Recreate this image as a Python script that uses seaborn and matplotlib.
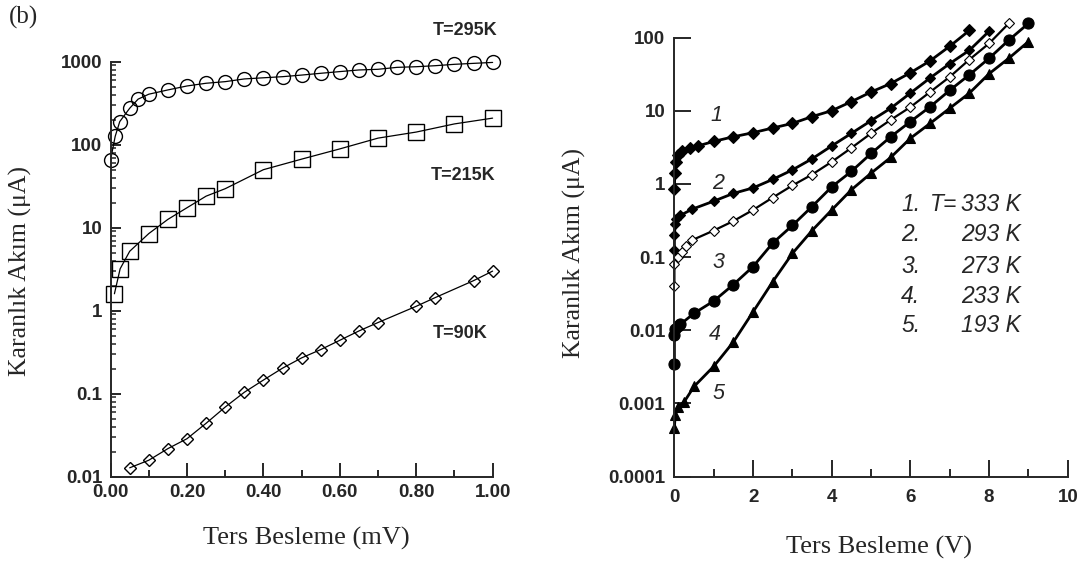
import matplotlib
matplotlib.use("Agg")
import matplotlib.pyplot as plt
import seaborn as sns
from matplotlib.ticker import FixedLocator, LogLocator, NullFormatter, NullLocator

sns.set_style("ticks")
plt.rcParams["font.family"] = ["Liberation Sans", "DejaVu Sans"]

# ---------------- Left panel data (Ters Besleme in mV, current in uA) ----------------
v_295 = [0.0, 0.012, 0.024, 0.05, 0.072, 0.10, 0.15, 0.20, 0.25, 0.30, 0.35, 0.40,
         0.45, 0.50, 0.55, 0.60, 0.65, 0.70, 0.75, 0.80, 0.85, 0.90, 0.95, 1.00]
i_295 = [66, 126, 190, 275, 354, 406, 457, 510, 550, 575, 620, 640,
         660, 690, 725, 760, 795, 810, 855, 870, 895, 930, 955, 980]

v_215 = [0.01, 0.025, 0.05, 0.10, 0.15, 0.20, 0.25, 0.30, 0.40, 0.50, 0.60, 0.70, 0.80, 0.90, 1.00]
i_215 = [1.6, 3.2, 5.2, 8.5, 12.6, 17.4, 24, 29.5, 50, 67, 89, 120, 142, 178, 209]

v_90 = [0.05, 0.10, 0.15, 0.20, 0.25, 0.30, 0.35, 0.40, 0.45, 0.50, 0.55, 0.60,
        0.65, 0.70, 0.80, 0.85, 0.95, 1.00]
i_90 = [0.0128, 0.0158, 0.0218, 0.0287, 0.044, 0.069, 0.104, 0.146, 0.203, 0.27, 0.34, 0.44,
        0.57, 0.72, 1.13, 1.44, 2.3, 3.0]

left_labels = ["T=295K", "T=215K", "T=90K"]
left_xticks = [0.0, 0.2, 0.4, 0.6, 0.8, 1.0]
left_xtick_labels = ["0.00", "0.20", "0.40", "0.60", "0.80", "1.00"]
left_yticks = [0.01, 0.1, 1, 10, 100, 1000]
left_ytick_labels = ["0.01", "0.1", "1", "10", "100", "1000"]

# ---------------- Right panel data (Ters Besleme in V, current in uA) ----------------
v_1 = [0.0, 0.01, 0.03, 0.1, 0.2, 0.4, 0.6, 1.0, 1.5, 2.0, 2.5, 3.0, 3.5, 4.0, 4.5,
       5.0, 5.5, 6.0, 6.5, 7.0, 7.5]
i_1 = [0.85, 1.4, 2.0, 2.5, 2.8, 3.1, 3.3, 3.8, 4.4, 5.0, 5.8, 6.7, 8.3, 10.0, 13.3,
       18, 23.5, 33, 48, 76, 125]

v_2 = [0.0, 0.0, 0.02, 0.05, 0.15, 0.45, 1.0, 1.5, 2.0, 2.5, 3.0, 3.5, 4.0, 4.5, 5.0,
       5.5, 6.0, 6.5, 7.0, 7.5, 8.0]
i_2 = [0.125, 0.2, 0.28, 0.33, 0.37, 0.45, 0.58, 0.74, 0.88, 1.15, 1.55, 2.2, 3.3, 4.9, 7.3,
       10.8, 17.4, 28, 44, 67, 122]

v_3 = [0.0, 0.0, 0.1, 0.2, 0.3, 0.45, 1.0, 1.5, 2.0, 2.5, 3.0, 3.5, 4.0, 4.5, 5.0,
       5.5, 6.0, 6.5, 7.0, 7.5, 8.0, 8.5]
i_3 = [0.04, 0.08, 0.1, 0.117, 0.14, 0.17, 0.23, 0.31, 0.44, 0.65, 0.95, 1.34, 2.0, 3.1, 4.9,
       7.5, 11.2, 18, 29, 50, 83, 156]

v_4 = [0.0, 0.0, 0.02, 0.1, 0.15, 0.5, 1.0, 1.5, 2.0, 2.5, 3.0, 3.5, 4.0, 4.5, 5.0,
       5.5, 6.0, 6.5, 7.0, 7.5, 8.0, 8.5, 9.0]
i_4 = [0.0035, 0.0085, 0.0105, 0.0115, 0.012, 0.017, 0.025, 0.042, 0.074, 0.155, 0.27, 0.49,
       0.91, 1.48, 2.6, 4.4, 7.1, 11.3, 19, 31, 52, 92, 156]

v_5 = [0.0, 0.02, 0.1, 0.25, 0.5, 1.0, 1.5, 2.0, 2.5, 3.0, 3.5, 4.0, 4.5, 5.0, 5.5,
       6.0, 6.5, 7.0, 7.5, 8.0, 8.5, 9.0]
i_5 = [0.00046, 0.0007, 0.0009, 0.00105, 0.0017, 0.0032, 0.0069, 0.0178, 0.046, 0.112, 0.23,
       0.44, 0.83, 1.4, 2.3, 4.2, 6.7, 10.8, 17.4, 32, 52, 88]

curve_numbers = ["1", "2", "3", "4", "5"]
legend_index = ["1.", "2.", "3.", "4.", "5."]
legend_temps = ["333 K", "293 K", "273 K", "233 K", "193 K"]
right_xticks = [0, 2, 4, 6, 8, 10]
right_yticks = [1e-4, 1e-3, 1e-2, 1e-1, 1, 10, 100]
right_ytick_labels = ["0.0001", "0.001", "0.01", "0.1", "1", "10", "100"]

W, H = 1092, 566
fig = plt.figure(figsize=(W / 100, H / 100), dpi=100)
fig.patch.set_facecolor("white")

ax1 = fig.add_axes([110.6 / W, 1 - 476.7 / H, 382 / W, 415 / H])
ax2 = fig.add_axes([674.4 / W, 1 - 476.5 / H, 393.4 / W, 439 / H])

tick_font = dict(family="Liberation Sans", weight="bold", size=13.5)
serif = "Liberation Serif"

# ---------------- Left panel ----------------
left_style = dict(color="black", linewidth=0.9, markerfacecolor="none",
                  markeredgecolor="black", markeredgewidth=1.0,
                  estimator=None, sort=False, clip_on=False)
sns.lineplot(x=v_295, y=i_295, ax=ax1, marker="o", markersize=10, **left_style)
sns.lineplot(x=v_215, y=i_215, ax=ax1, marker="s", markersize=12, **left_style)
sns.lineplot(x=v_90, y=i_90, ax=ax1, marker="D", markersize=6.5, **left_style)

ax1.set_yscale("log")
ax1.set_xlim(0, 1.0)
ax1.set_ylim(0.01, 1000)
ax1.xaxis.set_major_locator(FixedLocator(left_xticks))
ax1.set_xticklabels(left_xtick_labels)
ax1.xaxis.set_minor_locator(FixedLocator([0.1, 0.3, 0.5, 0.7, 0.9]))
ax1.yaxis.set_major_locator(FixedLocator(left_yticks))
ax1.set_yticklabels(left_ytick_labels)
ax1.yaxis.set_minor_locator(LogLocator(base=10, subs=range(2, 10)))
ax1.yaxis.set_minor_formatter(NullFormatter())
ax1.tick_params(axis="x", which="major", direction="in", length=10, width=1.4, pad=5)
ax1.tick_params(axis="x", which="minor", direction="in", length=5, width=1.4)
ax1.tick_params(axis="y", which="major", direction="in", length=7.5, width=1.4, pad=6)
ax1.tick_params(axis="y", which="minor", direction="in", length=3.8, width=1.1)
for lab in ax1.get_xticklabels() + ax1.get_yticklabels():
    lab.set_fontfamily(tick_font["family"])
    lab.set_fontweight(tick_font["weight"])
    lab.set_fontsize(tick_font["size"])
for s in ["top", "right"]:
    ax1.spines[s].set_visible(False)
for s in ["left", "bottom"]:
    ax1.spines[s].set_linewidth(1.4)
ax1.set_xlabel("")
ax1.set_ylabel("")

ann_kw = dict(ha="center", va="center", fontsize=13, fontweight="bold", clip_on=False)
ax1.text(0.927, 2350, left_labels[0], **ann_kw)
ax1.text(0.923, 42, left_labels[1], **ann_kw)
ax1.text(0.916, 0.525, left_labels[2], **ann_kw)

# ---------------- Right panel ----------------
right_style = dict(color="black", linewidth=2.0, estimator=None, sort=False, clip_on=False)
sns.lineplot(x=v_1, y=i_1, ax=ax2, marker="D", markersize=5.8, markerfacecolor="black",
             markeredgecolor="black", markeredgewidth=0.8, **right_style)
sns.lineplot(x=v_2, y=i_2, ax=ax2, marker="D", markersize=5.5, markerfacecolor="black",
             markeredgecolor="black", markeredgewidth=0.8, **right_style)
sns.lineplot(x=v_3, y=i_3, ax=ax2, marker="D", markersize=5.0, markerfacecolor="white",
             markeredgecolor="black", markeredgewidth=0.8,
             color="black", linewidth=1.6, estimator=None, sort=False, clip_on=False)
sns.lineplot(x=v_4, y=i_4, ax=ax2, marker="o", markersize=8, markerfacecolor="black",
             markeredgecolor="black", markeredgewidth=0.8, **right_style)
sns.lineplot(x=v_5, y=i_5, ax=ax2, marker="^", markersize=7.5, markerfacecolor="black",
             markeredgecolor="black", markeredgewidth=0.8, **right_style)

ax2.set_yscale("log")
ax2.set_xlim(0, 10)
ax2.set_ylim(1e-4, 100)
ax2.xaxis.set_major_locator(FixedLocator(right_xticks))
ax2.set_xticklabels([str(t) for t in right_xticks])
ax2.xaxis.set_minor_locator(FixedLocator([1, 3, 5, 7, 9]))
ax2.yaxis.set_major_locator(FixedLocator(right_yticks))
ax2.set_yticklabels(right_ytick_labels)
ax2.yaxis.set_minor_locator(NullLocator())
ax2.tick_params(axis="x", which="major", direction="in", length=12, width=1.4, pad=9)
ax2.tick_params(axis="x", which="minor", direction="in", length=6, width=1.4)
ax2.tick_params(axis="y", which="major", direction="in", length=12, width=1.4, pad=6.5)
for lab in ax2.get_xticklabels() + ax2.get_yticklabels():
    lab.set_fontfamily(tick_font["family"])
    lab.set_fontweight(tick_font["weight"])
    lab.set_fontsize(tick_font["size"])
for s in ["top", "right"]:
    ax2.spines[s].set_visible(False)
for s in ["left", "bottom"]:
    ax2.spines[s].set_linewidth(1.4)
ax2.set_xlabel("")
ax2.set_ylabel("")

num_kw = dict(ha="center", va="center", fontsize=15.5, style="italic", clip_on=False)
num_pos = [(1.06, 8.7), (1.11, 1.02), (1.13, 0.083), (1.03, 0.0087), (1.11, 0.00138)]
for txt, (x, y) in zip(curve_numbers, num_pos):
    ax2.text(x, y, txt, **num_kw)

leg_kw = dict(ha="left", va="center", fontsize=16.5, style="italic")
leg_y = [0.515, 0.2, 0.074, 0.029, 0.0117]
for idx, temp, y in zip(legend_index, legend_temps, leg_y):
    ax2.text(5.76, y, idx, **leg_kw)
    ax2.text(7.28, y, temp, **leg_kw)
ax2.text(6.5, leg_y[0], "T=", **leg_kw)

# ---------------- Axis titles and panel tag ----------------
fig.text(20 / W, 1 - 271 / H, "Karanlık Akım (μA)", rotation=90, ha="center", va="center",
         fontsize=18.5, family=serif)
fig.text(574 / W, 1 - 253 / H, "Karanlık Akım (μA)", rotation=90, ha="center", va="center",
         fontsize=18.5, family=serif)
fig.text(306 / W, 1 - 538 / H, "Ters Besleme (mV)", ha="center", va="center",
         fontsize=19, family=serif)
fig.text(879 / W, 1 - 547 / H, "Ters Besleme (V)", ha="center", va="center",
         fontsize=19, family=serif)
fig.text(9 / W, 1 - 17 / H, "(b)", ha="left", va="center", fontsize=18, family=serif)

fig.savefig("out.png", dpi=100)
